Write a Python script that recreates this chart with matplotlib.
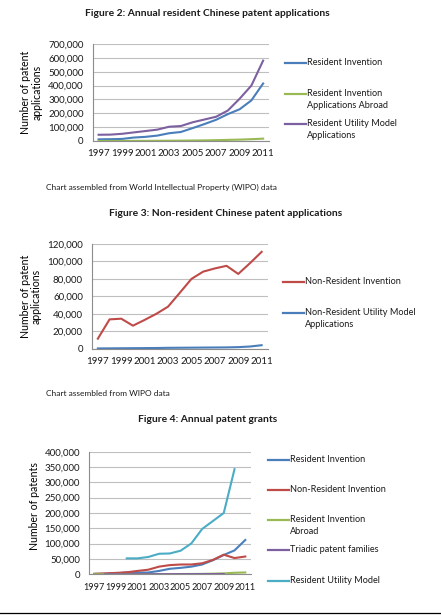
import matplotlib.pyplot as plt
import numpy as np
from matplotlib.lines import Line2D
from matplotlib.ticker import FuncFormatter

plt.rcParams["font.family"] = ["Lato", "DejaVu Sans"]
plt.rcParams["text.color"] = "#1A1A1A"
plt.rcParams["xtick.color"] = "#1A1A1A"
plt.rcParams["ytick.color"] = "#1A1A1A"

years = list(range(1997, 2012))
year_ticks = list(range(1997, 2012, 2))

# Figure 2: resident applications
res_invention = [12000, 13000, 15000, 25000, 30000, 39000, 56000, 65000,
                 93000, 122000, 153000, 194000, 229000, 293000, 415000]
res_abroad = [100, 150, 250, 800, 1000, 1500, 2000, 2500,
              3500, 4500, 6000, 8000, 10000, 13000, 17000]
res_utility = [45000, 46000, 52000, 62000, 72000, 82000, 103000, 108000,
               135000, 155000, 175000, 220000, 305000, 400000, 580000]

# Figure 3: non-resident applications
nonres_invention = [11500, 33600, 34400, 26400, 33000, 40000, 48200, 64000,
                    80000, 88300, 92000, 95000, 85700, 98000, 111000]
nonres_utility = [300, 400, 500, 600, 700, 800, 1000, 1100,
                  1200, 1300, 1400, 1500, 1800, 2500, 4000]

# Figure 4: grants (None = no data)
g_res_invention = [1500, 1600, 3000, 6000, 5400, 5900, 11000, 18000,
                   21000, 25000, 32000, 46000, 63000, 78000, 112000]
g_nonres_invention = [1500, 3000, 4600, 6500, 11000, 15000, 25000, 30000,
                      32000, 32000, 36000, 47000, 64000, 53000, 58000]
g_res_abroad = [200, 250, 300, 350, 400, 500, 600, 700,
                900, 1100, 1400, 2000, 3000, 5000, 6000]
g_triadic = [None, 50, 70, 100, 150, 200, 300, 400,
             500, 600, 700, 800, 1000, None, None]
g_res_utility = [None, None, None, 52000, 52000, 56500, 67000, 68000,
                 77000, 101000, 148000, 174000, 200000, 343000, None]

BLUE = "#4A7EBB"
RED = "#BE4B48"
GREEN = "#98B954"
PURPLE = "#7D60A0"
CYAN = "#4BACC6"

W, H = 441, 615
fig = plt.figure(figsize=(W / 100, H / 100), dpi=100)


def px_axes(left, top, right, bottom):
    return fig.add_axes([left / W, 1 - bottom / H, (right - left) / W, (bottom - top) / H])


def style_axes(ax, ymax, ystep, ylabel, label_xy):
    ax.set_xlim(1996.5, 2011.5)
    ax.set_ylim(0, ymax)
    ax.set_yticks(np.arange(0, ymax + 1, ystep))
    ax.set_xticks(year_ticks)
    ax.yaxis.set_major_formatter(FuncFormatter(lambda v, p: f"{int(v):,}"))
    ax.grid(axis="y", color="#BFBFBF", lw=0.8)
    ax.set_axisbelow(True)
    for s in ["top", "right"]:
        ax.spines[s].set_visible(False)
    for s in ["left", "bottom"]:
        ax.spines[s].set_color("#8C8C8C")
        ax.spines[s].set_linewidth(0.8)
    ax.tick_params(axis="y", length=0, pad=6.5, labelsize=7.0)
    ax.tick_params(axis="x", length=0, pad=6, labelsize=7.0)
    ax.set_ylabel(ylabel, fontsize=7.6, linespacing=1.0)
    ax.yaxis.set_label_coords(*label_xy)


def legend(x0, entries):
    for label, color, y in entries:
        fig.add_artist(Line2D([x0 / W, (x0 + 21) / W], [1 - y / H, 1 - y / H],
                              color=color, lw=1.6))
        fig.text((x0 + 22) / W, 1 - (y - 4.8) / H, label, fontsize=6.6,
                 va="top", ha="left", linespacing=1.4)


def series(values):
    return [np.nan if v is None else v for v in values]


# ---- Figure 2
fig.text(207.7 / W, 1 - 13.5 / H, "Figure 2: Annual resident Chinese patent applications",
         fontsize=7.4, fontweight="bold", ha="center", va="center")
ax1 = px_axes(92.7, 44, 269, 141)
ax1.plot(years, res_invention, color=BLUE, lw=1.5)
ax1.plot(years, res_abroad, color=GREEN, lw=1.5)
ax1.plot(years, res_utility, color=PURPLE, lw=1.5)
style_axes(ax1, 700000, 100000, "Number of patent\napplications", (-0.285, 0.5))
legend(285, [("Resident Invention", BLUE, 63),
             ("Resident Invention\nApplications Abroad", GREEN, 94),
             ("Resident Utility Model\nApplications", PURPLE, 124)])
fig.text(46 / W, 1 - 187.5 / H, "Chart assembled from World Intellectual Property (WIPO) data",
         fontsize=6.0, ha="left", va="center")

# ---- Figure 3
fig.text(226 / W, 1 - 213.3 / H, "Figure 3: Non-resident Chinese patent applications",
         fontsize=7.4, fontweight="bold", ha="center", va="center")
ax2 = px_axes(92, 244, 267.5, 348.7)
ax2.plot(years, nonres_invention, color=RED, lw=1.5)
ax2.plot(years, nonres_utility, color=BLUE, lw=1.5)
style_axes(ax2, 120000, 20000, "Number of patent\napplications", (-0.285, 0.5))
legend(283, [("Non-Resident Invention", RED, 281.7),
             ("Non-Resident Utility Model\nApplications", BLUE, 312.7)])
fig.text(46 / W, 1 - 393.3 / H, "Chart assembled from WIPO data",
         fontsize=6.0, ha="left", va="center")

# ---- Figure 4
fig.text(207.7 / W, 1 - 419.3 / H, "Figure 4: Annual patent grants",
         fontsize=7.4, fontweight="bold", ha="center", va="center")
ax3 = px_axes(89, 451.7, 250.7, 574.3)
ax3.plot(years, series(g_res_invention), color=BLUE, lw=1.5)
ax3.plot(years, series(g_nonres_invention), color=RED, lw=1.5)
ax3.plot(years, series(g_res_abroad), color=GREEN, lw=1.5)
ax3.plot(years, series(g_triadic), color=PURPLE, lw=1.5)
ax3.plot(years, series(g_res_utility), color=CYAN, lw=1.5)
style_axes(ax3, 400000, 50000, "Number of patents", (-0.3, 0.56))
ax3.tick_params(axis="x", labelsize=6.6)
legend(268, [("Resident Invention", BLUE, 460),
             ("Non-Resident Invention", RED, 490),
             ("Resident Invention\nAbroad", GREEN, 520),
             ("Triadic patent families", PURPLE, 550),
             ("Resident Utility Model", CYAN, 581)])

# page border under the last chart
fig.add_artist(Line2D([0, 1], [1 - 612.7 / H, 1 - 612.7 / H], color="black", lw=0.9))

fig.savefig("out.png", dpi=100)
